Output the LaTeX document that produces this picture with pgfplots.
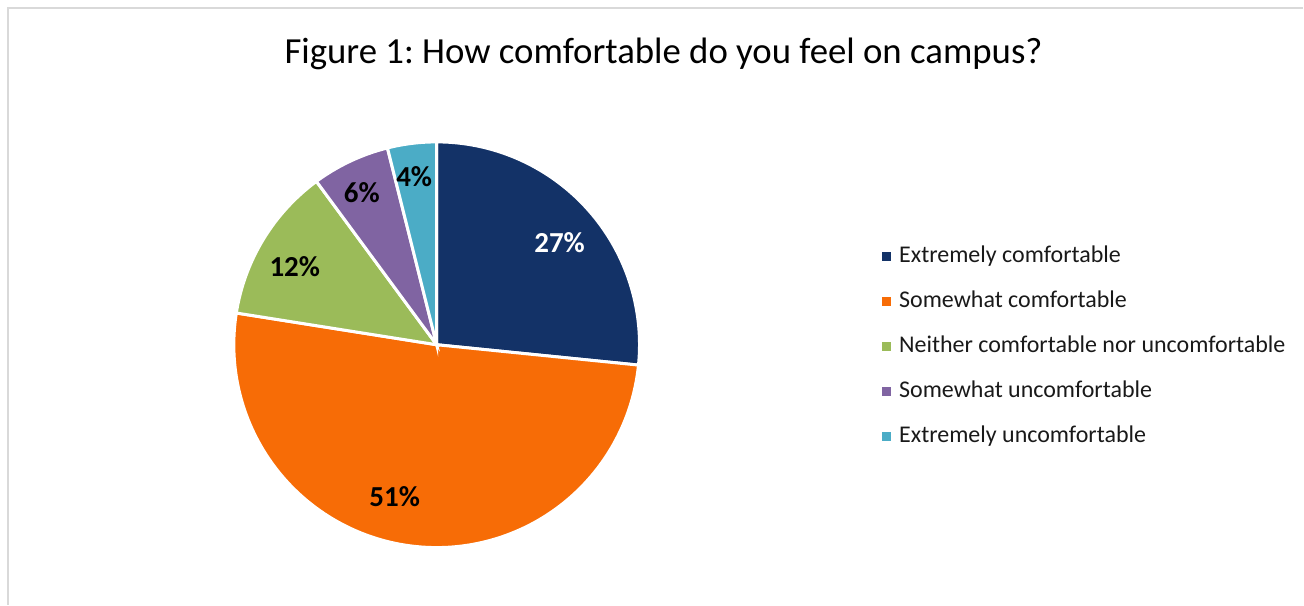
\documentclass[border=0pt]{standalone}
\usepackage{pgfplots}
\pgfplotsset{compat=1.18}
\usepackage{fontspec}
\setmainfont{Carlito}
\frenchspacing
\definecolor{cA}{RGB}{19,50,103}
\definecolor{cB}{RGB}{247,108,6}
\definecolor{cC}{RGB}{155,187,89}
\definecolor{cD}{RGB}{128,100,162}
\definecolor{cE}{RGB}{75,172,198}
\definecolor{frame}{RGB}{217,217,217}
% shares in percent
\def\vA{26.6}\def\vB{50.9}\def\vC{12.4}\def\vD{6.2}\def\vE{3.9}
\pgfmathsetmacro\aA{90}
\pgfmathsetmacro\aB{\aA-3.6*\vA}
\pgfmathsetmacro\aC{\aB-3.6*\vB}
\pgfmathsetmacro\aD{\aC-3.6*\vC}
\pgfmathsetmacro\aE{\aD-3.6*\vD}
\pgfmathsetmacro\aF{\aE-3.6*\vE}
\begin{document}
\begin{tikzpicture}
\begin{axis}[width=652pt,height=302.5pt,scale only axis,
  xmin=0,xmax=1304,ymin=0,ymax=605,hide axis,clip=false,
  legend style={at={(axis cs:882,360)},anchor=north west,draw=none,fill=none,
    font=\fontsize{12}{14}\selectfont,text=black!90,inner sep=0pt,row sep=11.5pt,
    nodes={inner sep=0pt,text height=8.5pt,text depth=2.5pt}},
  legend cell align=left,
  legend image code/.code={\fill[#1,draw=none] (0pt,-2.25pt) rectangle (4.5pt,2.25pt);
    \path[draw=none,fill=none] (0pt,0pt) rectangle (8.7pt,0.1pt);}]
\path (axis cs:0,0) rectangle (axis cs:1304,605);
\draw[frame,line width=1pt] (axis cs:8,0) -- (axis cs:8,597) -- (axis cs:1304,597);
\addplot[fill=cA,draw=white,line width=1.5pt,domain=\aB:\aA,samples=90,variable=\t]
  ({437+203*cos(\t)},{260+203*sin(\t)}) -- (axis cs:437,260) -- cycle;
\addlegendentry{Extremely comfortable}
\addplot[fill=cB,draw=white,line width=1.5pt,domain=\aC:\aB,samples=150,variable=\t]
  ({437+203*cos(\t)},{260+203*sin(\t)}) -- (axis cs:437,260) -- cycle;
\addlegendentry{Somewhat comfortable}
\addplot[fill=cC,draw=white,line width=1.5pt,domain=\aD:\aC,samples=50,variable=\t]
  ({437+203*cos(\t)},{260+203*sin(\t)}) -- (axis cs:437,260) -- cycle;
\addlegendentry{Neither comfortable nor uncomfortable}
\addplot[fill=cD,draw=white,line width=1.5pt,domain=\aE:\aD,samples=30,variable=\t]
  ({437+203*cos(\t)},{260+203*sin(\t)}) -- (axis cs:437,260) -- cycle;
\addlegendentry{Somewhat uncomfortable}
\addplot[fill=cE,draw=white,line width=1.5pt,domain=\aF:\aE,samples=20,variable=\t]
  ({437+203*cos(\t)},{260+203*sin(\t)}) -- (axis cs:437,260) -- cycle;
\addlegendentry{Extremely uncomfortable}
\node[anchor=base,font=\fontsize{18.4}{22}\selectfont] at (axis cs:664,541)
  {Figure 1: How comfortable do you feel on campus?};
\begin{scope}[font=\bfseries\fontsize{14.5}{17}\selectfont]
\node[text=white] at (axis cs:560,362) {27\%};
\node at (axis cs:395,108) {51\%};
\node at (axis cs:295,338) {12\%};
\node at (axis cs:362,412) {6\%};
\node at (axis cs:414.5,428) {4\%};
\end{scope}
\end{axis}
\end{tikzpicture}
\end{document}
